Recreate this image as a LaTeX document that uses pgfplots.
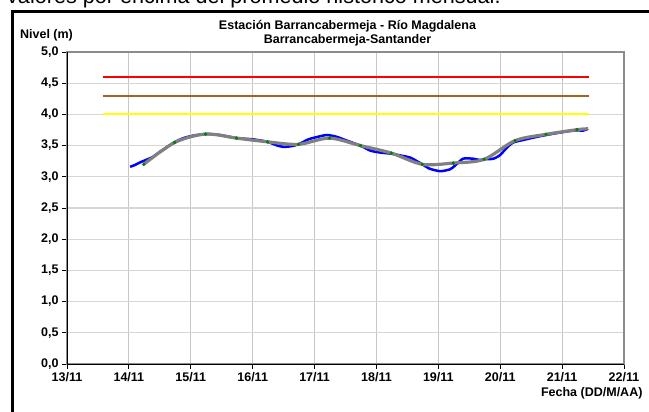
\documentclass[border=0pt]{standalone}
\usepackage{fontspec}
\setmainfont{Liberation Sans}
\usepackage{pgfplots}
\pgfplotsset{compat=1.18}

\definecolor{nivel}{RGB}{0,0,255}
\definecolor{suave}{RGB}{128,128,128}
\definecolor{punto}{RGB}{0,128,0}
\definecolor{umbralmedio}{RGB}{160,100,40}
\definecolor{amarillo}{RGB}{255,255,0}

\begin{document}
\begin{tikzpicture}[x=1pt,y=1pt]
\useasboundingbox (0,0) rectangle (649,412);
% texto cortado del documento original
\node[anchor=base west, inner sep=0pt, font=\fontsize{21.6}{24}\selectfont] at (7,408)
  {valores por encima del promedio histórico mensual.};
% marco del grafico
\draw[line width=3.5pt] (12.5,-10) -- (12.5,400.5) -- (670,400.5);
\begin{axis}[
  at={(67pt,48pt)}, anchor=south west, scale only axis,
  width=557pt, height=312pt,
  xmin=0, xmax=9, ymin=0, ymax=5,
  xtick={0,1,2,3,4,5,6,7,8,9},
  xticklabels={13/11,14/11,15/11,16/11,17/11,18/11,19/11,20/11,21/11,22/11},
  ytick={0,0.5,1,1.5,2,2.5,3,3.5,4,4.5,5},
  xtick pos=bottom, ytick pos=left,
  tick align=outside, major tick length=5pt,
  major tick style={black, line width=0.8pt},
  tick label style={font=\bfseries\fontsize{12.5}{14}\selectfont},
  /pgf/number format/assume math mode=true,
  yticklabel style={/pgf/number format/.cd, fixed, fixed zerofill, precision=1, use comma},
  grid=major,
  x grid style={black!22, line width=0.8pt},
  y grid style={black!16, line width=1.2pt},
  axis line style={draw=black!45, line width=1.2pt},
  title={Estación Barrancabermeja - Río Magdalena\\Barrancabermeja-Santander},
  title style={at={(rel axis cs:0.5,1)}, anchor=center, align=center,
    xshift=2pt, yshift=13pt,
    font=\bfseries\fontsize{12.5}{13.7}\selectfont},
  ylabel={Nivel (m)},
  every axis y label/.style={at={(rel axis cs:0,1)}, anchor=center,
    xshift=-20.5pt, yshift=17pt, font=\bfseries\fontsize{12.5}{14}\selectfont},
  xlabel={Fecha (DD/M/AA)},
  every axis x label/.style={at={(rel axis cs:1,0)}, anchor=east,
    xshift=22pt, yshift=-29pt, font=\bfseries\fontsize{12.5}{14}\selectfont},
  clip=false,
]
% umbrales
\addplot[draw=red, line width=2pt] coordinates {(0.58,4.6) (8.43,4.6)};
\addplot[draw=umbralmedio, line width=2pt] coordinates {(0.58,4.3) (8.43,4.3)};
\addplot[draw=amarillo, line width=2pt] coordinates {(0.58,4.0) (8.43,4.0)};
% nivel observado
\addplot[draw=nivel, line width=2.5pt, smooth, tension=0.4] coordinates {
(1.02,3.16) (1.10,3.19) (1.18,3.23) (1.30,3.28) (1.39,3.32) (1.50,3.40)
(1.61,3.47) (1.73,3.55) (1.88,3.62) (2.04,3.66) (2.24,3.685) (2.47,3.67)
(2.74,3.62) (3.01,3.60) (3.24,3.56) (3.40,3.50) (3.50,3.48) (3.62,3.49)
(3.74,3.52) (3.90,3.60) (4.05,3.64) (4.20,3.67) (4.36,3.64) (4.52,3.58)
(4.74,3.50) (4.90,3.42) (5.05,3.39) (5.24,3.37) (5.40,3.34) (5.54,3.31)
(5.62,3.27) (5.74,3.20) (5.86,3.13) (6.03,3.09) (6.19,3.12) (6.27,3.18)
(6.40,3.29) (6.56,3.29) (6.67,3.27) (6.74,3.28) (6.89,3.29) (7.00,3.35)
(7.10,3.46) (7.21,3.55) (7.37,3.59) (7.64,3.65) (7.91,3.70) (8.10,3.73)
(8.24,3.745) (8.34,3.74) (8.42,3.77)
};
% nivel suavizado
\addplot[draw=suave, line width=3.2pt, smooth, tension=0.5] coordinates {
(1.24,3.20) (1.74,3.55) (2.24,3.685) (2.74,3.62) (3.24,3.56) (3.74,3.52)
(4.24,3.62) (4.74,3.50) (5.24,3.38) (5.74,3.20) (6.24,3.22) (6.74,3.28)
(7.24,3.58) (7.74,3.68) (8.24,3.755) (8.42,3.77)
};
% lecturas
\addplot[only marks, mark=*, mark size=1.5pt, color=punto] coordinates {
(1.24,3.20) (1.74,3.55) (2.24,3.685) (2.74,3.62) (3.24,3.56) (3.74,3.52)
(4.24,3.62) (4.74,3.50) (5.24,3.38) (5.74,3.20) (6.24,3.22) (6.74,3.28)
(7.24,3.58) (7.74,3.68) (8.24,3.755)
};
\draw[black, line width=0.8pt] (rel axis cs:0,1) -- (rel axis cs:0,0) -- (rel axis cs:1,0);
\end{axis}
\end{tikzpicture}
\end{document}
